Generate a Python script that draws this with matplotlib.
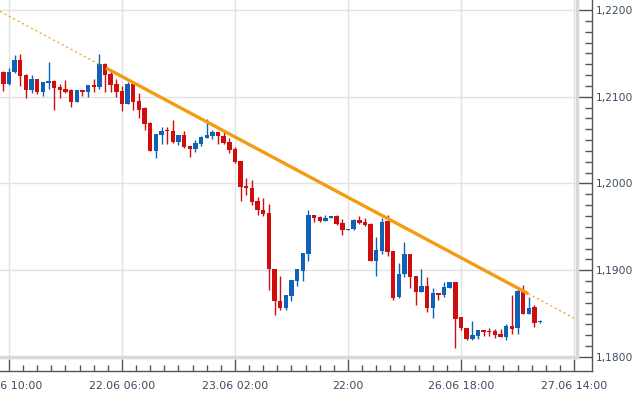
import matplotlib
matplotlib.use("Agg")
import matplotlib.pyplot as plt
from matplotlib.ticker import MultipleLocator, FixedLocator, FuncFormatter


# hourly EUR/USD candles, first one sits one hour before 21.06 10:00
first_idx = -1
opens = [1.2128, 1.2115, 1.2128, 1.2142, 1.2125, 1.2108, 1.2120, 1.2106, 1.2116, 1.2118,
	1.2111, 1.2109, 1.2108, 1.2094, 1.2108, 1.2105, 1.2113, 1.2111, 1.2138, 1.2126,
	1.2115, 1.2107, 1.2092, 1.2115, 1.2095, 1.2087, 1.2070, 1.2038, 1.2056, 1.2061,
	1.2061, 1.2048, 1.2056, 1.2043, 1.2040, 1.2046, 1.2053, 1.2055, 1.2059, 1.2055,
	1.2048, 1.2040, 1.2026, 1.1997, 1.1995, 1.1980, 1.1970, 1.1966, 1.1902, 1.1865,
	1.1856, 1.1870, 1.1888, 1.1899, 1.1919, 1.1964, 1.1961, 1.1957, 1.1960, 1.1962,
	1.1955, 1.1946, 1.1947, 1.1958, 1.1956, 1.1953, 1.1911, 1.1922, 1.1957, 1.1922,
	1.1869, 1.1896, 1.1919, 1.1893, 1.1875, 1.1882, 1.1856, 1.1874, 1.1871, 1.1880,
	1.1887, 1.1846, 1.1834, 1.1821, 1.1824, 1.1831, 1.1830, 1.1830, 1.1826, 1.1823,
	1.1836, 1.1833, 1.1876, 1.1850, 1.1858, 1.1840]
highs = [1.2130, 1.2133, 1.2148, 1.2149, 1.2126, 1.2125, 1.2120, 1.2117, 1.2140, 1.2119,
	1.2115, 1.2119, 1.2109, 1.2108, 1.2108, 1.2113, 1.2120, 1.2149, 1.2139, 1.2130,
	1.2120, 1.2112, 1.2117, 1.2117, 1.2104, 1.2088, 1.2071, 1.2057, 1.2065, 1.2065,
	1.2073, 1.2056, 1.2061, 1.2043, 1.2050, 1.2055, 1.2074, 1.2062, 1.2059, 1.2059,
	1.2052, 1.2042, 1.2026, 1.2006, 1.2004, 1.1984, 1.1983, 1.1976, 1.1902, 1.1893,
	1.1871, 1.1889, 1.1902, 1.1920, 1.1969, 1.1964, 1.1962, 1.1964, 1.1962, 1.1964,
	1.1959, 1.1948, 1.1959, 1.1963, 1.1960, 1.1955, 1.1938, 1.1960, 1.1964, 1.1922,
	1.1908, 1.1932, 1.1919, 1.1893, 1.1902, 1.1892, 1.1880, 1.1874, 1.1887, 1.1887,
	1.1887, 1.1846, 1.1834, 1.1842, 1.1831, 1.1831, 1.1833, 1.1832, 1.1832, 1.1838,
	1.1871, 1.1878, 1.1883, 1.1869, 1.1860, 1.1843]
lows = [1.2107, 1.2113, 1.2127, 1.2112, 1.2099, 1.2104, 1.2103, 1.2101, 1.2109, 1.2085,
	1.2098, 1.2104, 1.2088, 1.2094, 1.2101, 1.2100, 1.2106, 1.2109, 1.2105, 1.2106,
	1.2100, 1.2084, 1.2092, 1.2085, 1.2075, 1.2062, 1.2037, 1.2029, 1.2046, 1.2046,
	1.2047, 1.2044, 1.2041, 1.2031, 1.2036, 1.2043, 1.2052, 1.2051, 1.2046, 1.2046,
	1.2035, 1.2024, 1.1980, 1.1987, 1.1975, 1.1964, 1.1962, 1.1877, 1.1848, 1.1854,
	1.1854, 1.1864, 1.1882, 1.1888, 1.1911, 1.1956, 1.1956, 1.1957, 1.1960, 1.1952,
	1.1941, 1.1946, 1.1946, 1.1953, 1.1951, 1.1911, 1.1893, 1.1919, 1.1916, 1.1866,
	1.1868, 1.1892, 1.1879, 1.1860, 1.1875, 1.1852, 1.1845, 1.1866, 1.1869, 1.1880,
	1.1810, 1.1831, 1.1820, 1.1820, 1.1821, 1.1824, 1.1824, 1.1822, 1.1823, 1.1820,
	1.1827, 1.1827, 1.1849, 1.1850, 1.1835, 1.1839]
closes = [1.2115, 1.2129, 1.2142, 1.2124, 1.2108, 1.2120, 1.2106, 1.2117, 1.2118, 1.2110,
	1.2108, 1.2106, 1.2094, 1.2108, 1.2105, 1.2113, 1.2111, 1.2138, 1.2125, 1.2114,
	1.2106, 1.2092, 1.2115, 1.2094, 1.2085, 1.2069, 1.2038, 1.2057, 1.2061, 1.2060,
	1.2048, 1.2056, 1.2042, 1.2040, 1.2047, 1.2054, 1.2056, 1.2059, 1.2055, 1.2047,
	1.2039, 1.2025, 1.1996, 1.1995, 1.1979, 1.1969, 1.1965, 1.1901, 1.1864, 1.1856,
	1.1871, 1.1889, 1.1901, 1.1920, 1.1964, 1.1960, 1.1957, 1.1960, 1.1962, 1.1953,
	1.1946, 1.1948, 1.1958, 1.1954, 1.1952, 1.1911, 1.1923, 1.1956, 1.1921, 1.1868,
	1.1896, 1.1919, 1.1892, 1.1875, 1.1882, 1.1856, 1.1874, 1.1871, 1.1881, 1.1887,
	1.1844, 1.1833, 1.1821, 1.1825, 1.1831, 1.1829, 1.1829, 1.1825, 1.1823, 1.1836,
	1.1832, 1.1876, 1.1849, 1.1857, 1.1839, 1.1841]

tick_pos = [0, 20, 40, 60, 80, 100]
tick_labels = ["21.06 10:00", "22.06 06:00", "23.06 02:00", "22:00", "26.06 18:00", "27.06 14:00"]

# resistance line, touch points (candle index, price)
trend_x = [17.2, 91.9]
trend_y = [1.2133, 1.1873]

RED = "#d00d0d"
BLUE = "#0e62b8"
ORANGE = "#f39c12"
TXT = "#3e4a60"
AX = "#555555"

W, H = 634, 394
PT = 72 / 100  # points per pixel
fig = plt.figure(figsize=(W / 100, H / 100), dpi=100)
ax = fig.add_axes([0, 1 - 357 / H, 577 / W, 357 / H])
xmin, xmax = -1.59, 100.53
ymin, ymax = 1.18, 1.22115
ax.set_xlim(xmin, xmax)
ax.set_ylim(ymin, ymax)

xs = [first_idx + i for i in range(len(opens))]
cols = [BLUE if c >= o else RED for o, c in zip(opens, closes)]
bottoms = [min(o, c) for o, c in zip(opens, closes)]
heights = [max(abs(c - o), 0.00012) for o, c in zip(opens, closes)]

ax.vlines(xs, lows, highs, colors=cols, lw=1, zorder=2)
ax.bar(xs, heights, bottom=bottoms, width=0.78, color=cols, lw=0, zorder=3)

# trend line: solid between touches, dashed extension to both edges
slope = (trend_y[1] - trend_y[0]) / (trend_x[1] - trend_x[0])
ax.plot(trend_x, trend_y, color=ORANGE, lw=2.4, solid_capstyle="butt", zorder=4)
ax.plot([xmin, trend_x[0]], [trend_y[0] + slope * (xmin - trend_x[0]), trend_y[0]],
	color=ORANGE, lw=0.8, ls=(0, (2, 2.5)), zorder=4)
ax.plot([trend_x[1], xmax], [trend_y[1], trend_y[1] + slope * (xmax - trend_x[1])],
	color=ORANGE, lw=0.8, ls=(0, (2, 2.5)), zorder=4)

# grid + light frame of the plot area
ax.set_axisbelow(True)
ax.grid(True, which="major", color="#e2e2e2", lw=1)
ax.plot([1, 1], [0, 1], transform=ax.transAxes, color="#d8d8d8", lw=2.5, clip_on=False, zorder=1)
ax.plot([0, 1], [0, 0], transform=ax.transAxes, color="#d8d8d8", lw=2.5, clip_on=False, zorder=1)

# axes pushed outwards (15px right, 14px down)
for s in ["top", "left"]:
	ax.spines[s].set_visible(False)
ax.spines["right"].set_position(("outward", 15 * PT))
ax.spines["bottom"].set_position(("outward", 14 * PT))
for s in ["right", "bottom"]:
	ax.spines[s].set_color(AX)
	ax.spines[s].set_linewidth(1)
ax.spines["bottom"].set_bounds(xmin, xmax + 15 / 5.65)
ax.spines["right"].set_bounds(ymin - 14 * 0.0001153, ymax)

ax.yaxis.tick_right()
ax.yaxis.set_major_locator(MultipleLocator(0.01))
ax.yaxis.set_minor_locator(MultipleLocator(0.00125))
ax.yaxis.set_major_formatter(FuncFormatter(lambda v, p: f"{v:.4f}".replace(".", ",")))
ax.xaxis.set_major_locator(FixedLocator(tick_pos))
ax.xaxis.set_minor_locator(MultipleLocator(2.5))
ax.set_xticklabels(tick_labels)

ax.tick_params(axis="y", which="major", direction="in", length=15 * PT, width=1, color=AX,
	pad=3, labelsize=7.7, labelcolor=TXT)
ax.tick_params(axis="y", which="minor", direction="in", length=7 * PT, width=1, color=AX)
ax.tick_params(axis="x", which="major", direction="in", length=12 * PT, width=1, color=AX,
	pad=7, labelsize=7.9, labelcolor=TXT)
ax.tick_params(axis="x", which="minor", direction="in", length=6 * PT, width=1, color=AX)

fig.savefig("out.png", dpi=100)
